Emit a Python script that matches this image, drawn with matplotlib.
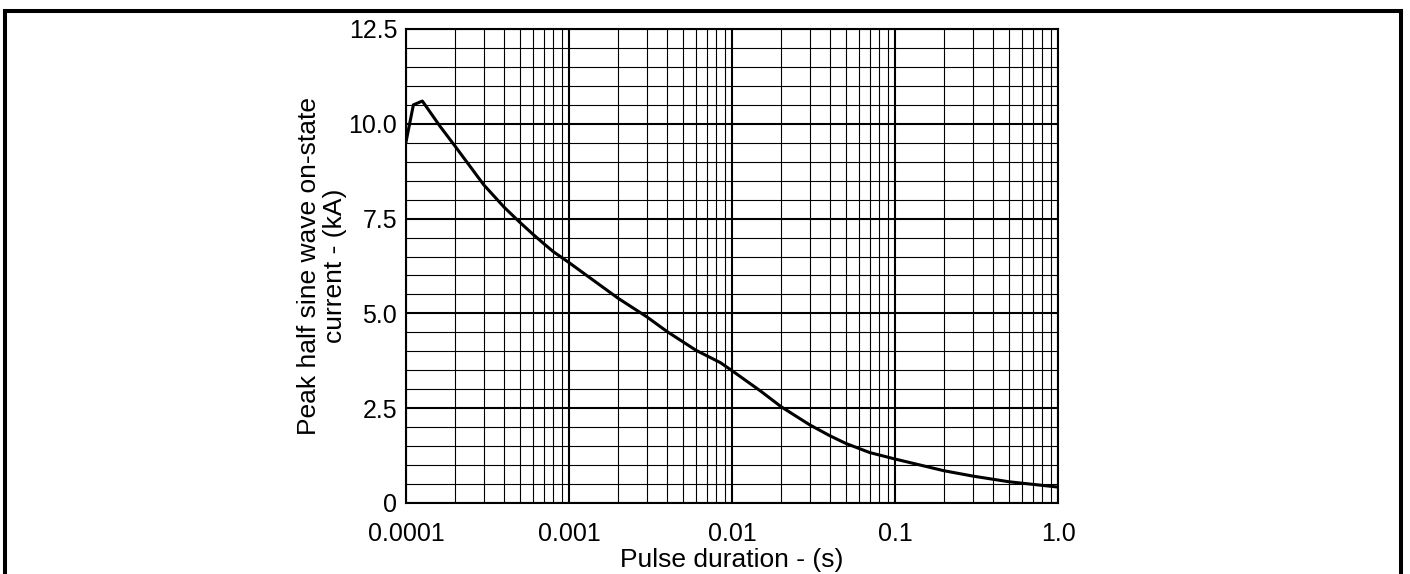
import matplotlib
matplotlib.use("Agg")
import matplotlib.pyplot as plt
from matplotlib.lines import Line2D
from matplotlib.ticker import FixedLocator, NullFormatter, LogLocator, MultipleLocator
import numpy as np

# ---- data ----
pulse_duration_s = [1e-4, 1.11e-4, 1.26e-4, 1.62e-4, 2e-4, 3e-4, 4e-4, 5e-4, 6e-4, 7e-4,
                    8e-4, 1e-3, 2e-3, 3e-3, 4e-3, 6e-3, 8.5e-3, 1e-2, 1.5e-2, 2e-2,
                    3e-2, 4e-2, 5e-2, 7e-2, 0.1, 0.2, 0.3, 0.5, 1.0]
peak_current_kA = [9.52, 10.5, 10.6, 9.93, 9.41, 8.39, 7.80, 7.40, 7.09, 6.84,
                   6.63, 6.34, 5.40, 4.91, 4.52, 4.03, 3.70, 3.49, 2.95, 2.54,
                   2.06, 1.77, 1.57, 1.33, 1.16, 0.85, 0.71, 0.56, 0.42]

x_ticks = [1e-4, 1e-3, 1e-2, 1e-1, 1.0]
x_tick_labels = ["0.0001", "0.001", "0.01", "0.1", "1.0"]
y_ticks = [0, 2.5, 5.0, 7.5, 10.0, 12.5]
y_tick_labels = ["0", "2.5", "5.0", "7.5", "10.0", "12.5"]
x_label = "Pulse duration - (s)"
y_label = "Peak half sine wave on-state\ncurrent - (kA)"

plt.rcParams['font.family'] = ['Liberation Sans', 'DejaVu Sans']
FS = 18
FS_LABEL = 19

W, H = 1410, 574
fig = plt.figure(figsize=(W / 100, H / 100), dpi=100)
ax = fig.add_axes([406 / W, 1 - 503 / H, (1058 - 406) / W, (503 - 29) / H])

ax.plot(pulse_duration_s, peak_current_kA, color="black", lw=2.2, zorder=5,
        solid_joinstyle="round")

ax.set_xscale("log")
ax.set_xlim(1e-4, 1.0)
ax.set_ylim(0, 12.5)

ax.xaxis.set_major_locator(FixedLocator(x_ticks))
ax.set_xticklabels(x_tick_labels)
ax.xaxis.set_minor_locator(LogLocator(base=10, subs=np.arange(2, 10), numticks=20))
ax.xaxis.set_minor_formatter(NullFormatter())
ax.yaxis.set_major_locator(FixedLocator(y_ticks))
ax.set_yticklabels(y_tick_labels)
ax.yaxis.set_minor_locator(MultipleLocator(0.5))

ax.tick_params(which="both", length=0)
ax.tick_params(axis="x", which="major", pad=13.5, labelsize=FS)
ax.tick_params(axis="y", which="major", pad=6.3, labelsize=FS)

ax.grid(which="major", color="black", lw=1.5)
ax.grid(which="minor", color="black", lw=0.8)
ax.set_axisbelow(True)
for s in ax.spines.values():
    s.set_linewidth(1.5)
    s.set_color("black")

ax.set_xlabel(x_label, fontsize=FS_LABEL, va="top")
ax.xaxis.set_label_coords(0.5, -0.0949)
ax.set_ylabel(y_label, fontsize=FS_LABEL, linespacing=1.1)
ax.yaxis.set_label_coords(-0.0905, 0.5)

# outer frame (left, top, right), open at the bottom
lw_frame = 2.9
fig.add_artist(Line2D([5.2 / W, 5.2 / W], [0, 1 - 11 / H], color="black", lw=lw_frame,
                      transform=fig.transFigure, solid_capstyle="projecting"))
fig.add_artist(Line2D([5.2 / W, 1401.3 / W], [1 - 11 / H, 1 - 11 / H], color="black",
                      lw=lw_frame, transform=fig.transFigure, solid_capstyle="projecting"))
fig.add_artist(Line2D([1401.3 / W, 1401.3 / W], [0, 1 - 11 / H], color="black", lw=lw_frame,
                      transform=fig.transFigure, solid_capstyle="projecting"))

fig.savefig("out.png", dpi=100)
